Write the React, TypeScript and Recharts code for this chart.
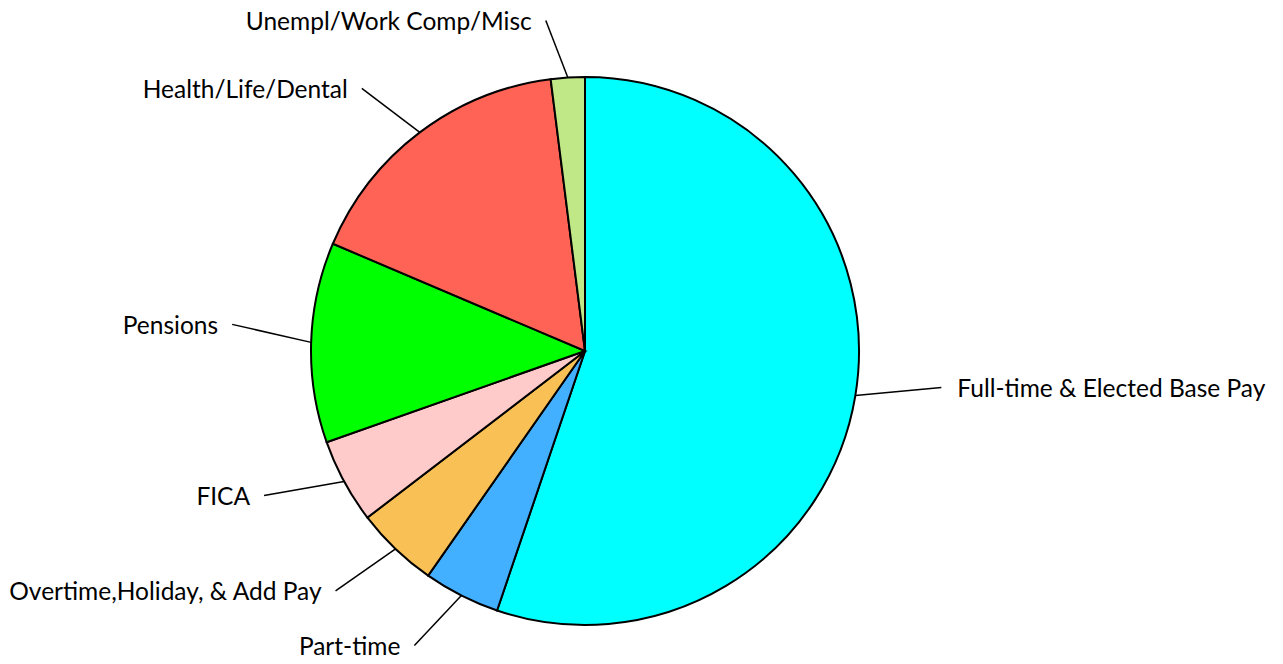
import React from "react";
import { PieChart, Pie, Cell } from "recharts";

const categories = [
  "Full-time & Elected Base Pay",
  "Part-time",
  "Overtime,Holiday, & Add Pay",
  "FICA",
  "Pensions",
  "Health/Life/Dental",
  "Unempl/Work Comp/Misc",
];
const shares = [55.2, 4.5, 4.9, 5.0, 11.8, 16.6, 2.0];
const colors = ["#00FFFF", "#43AFFF", "#F9C155", "#FFCACA", "#00FF00", "#FF6355", "#C0E887"];
// leader-line end offsets from the slice's outer mid-point
const labelOffsets: [number, number][] = [
  [86, -8],
  [-47, 50],
  [-60, 42],
  [-80, 14],
  [-79, -18],
  [-58, -44],
  [-22, -57],
];

const data = categories.map((name, i) => ({ name, value: shares[i] }));
const RAD = Math.PI / 180;

const renderLabel = (props: any) => {
  const { cx, cy, midAngle, outerRadius, index } = props;
  const x0 = cx + outerRadius * Math.cos(-midAngle * RAD);
  const y0 = cy + outerRadius * Math.sin(-midAngle * RAD);
  const [dx, dy] = labelOffsets[index];
  const x1 = x0 + dx;
  const y1 = y0 + dy;
  const right = dx > 0;
  return (
    <g key={`lbl-${index}`}>
      <line x1={x0} y1={y0} x2={x1} y2={y1} stroke="#000" strokeWidth={1.5} />
      <text
        x={right ? x1 + 16 : x1 - 14}
        y={y1}
        textAnchor={right ? "start" : "end"}
        dominantBaseline="central"
        fontFamily="Lato, 'Open Sans', sans-serif"
        fontSize={24.5}
        fill="#000"
      >
        {categories[index]}
      </text>
    </g>
  );
};

export default function App() {
  return (
    <div style={{ position: "absolute", left: 0, top: 0, background: "#fff" }}>
      <PieChart width={1283} height={664} margin={{ top: 0, right: 0, bottom: 0, left: 0 }}>
        <Pie
          data={data}
          dataKey="value"
          nameKey="name"
          cx={585}
          cy={351}
          outerRadius={274}
          startAngle={90}
          endAngle={-270}
          stroke="#000"
          strokeWidth={2}
          label={renderLabel}
          labelLine={false}
          isAnimationActive={false}
        >
          {data.map((d, i) => (
            <Cell key={d.name} fill={colors[i]} />
          ))}
        </Pie>
      </PieChart>
    </div>
  );
}
